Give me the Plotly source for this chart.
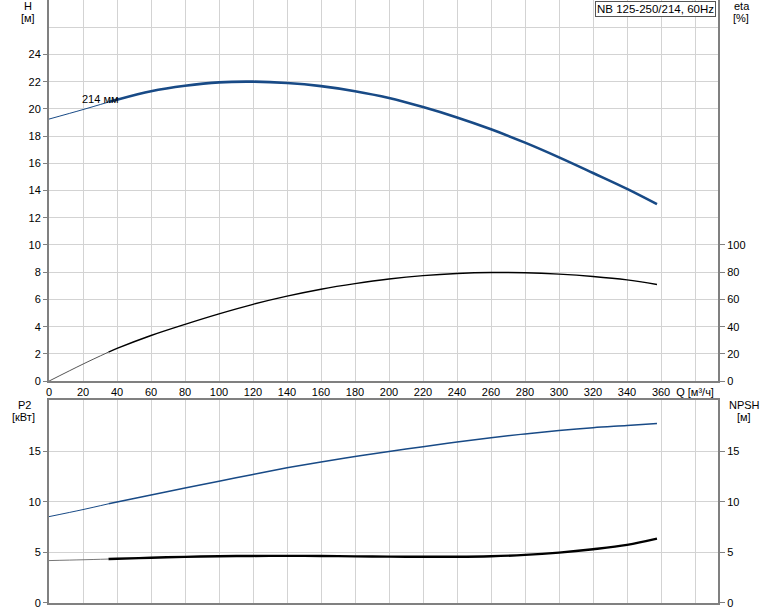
import plotly.graph_objects as go

# ---- data ----
q_h = [0, 20, 35, 40, 60, 80, 100, 120, 140, 160, 180, 200, 220, 240, 260, 280, 300, 320, 340, 357.6]
h_vals = [19.25, 19.95, 20.5, 20.68, 21.3, 21.7, 21.95, 22.0, 21.9, 21.67, 21.3, 20.8, 20.13, 19.37, 18.5, 17.52, 16.44, 15.29, 14.12, 13.0]

q_eta = [0, 20, 35, 40, 60, 80, 100, 120, 140, 160, 180, 200, 220, 240, 260, 280, 300, 320, 340, 357.6]
eta_vals = [0, 12.5, 21.3, 24, 33.5, 41.7, 49.4, 56.4, 62.4, 67.5, 71.6, 75.0, 77.5, 79.1, 79.8, 79.6, 78.6, 76.9, 74.4, 71.0]

q_p2 = [0, 20, 35, 40, 60, 80, 100, 120, 140, 160, 180, 200, 220, 240, 260, 280, 300, 320, 340, 357.6]
p2_vals = [8.55, 9.25, 9.82, 10.0, 10.69, 11.38, 12.06, 12.73, 13.38, 13.97, 14.5, 15.0, 15.48, 15.94, 16.37, 16.74, 17.08, 17.36, 17.57, 17.77]

q_npsh = [0, 20, 35, 40, 60, 80, 100, 120, 140, 160, 180, 200, 220, 240, 260, 280, 300, 320, 340, 357.6]
npsh_vals = [4.2, 4.28, 4.35, 4.38, 4.48, 4.57, 4.63, 4.66, 4.67, 4.65, 4.62, 4.59, 4.58, 4.58, 4.63, 4.76, 4.99, 5.32, 5.75, 6.37]

x_ticks = list(range(0, 381, 20))
x_labels = [str(v) for v in range(0, 361, 20)] + ["Q [м³/ч]"]
h_ticks = list(range(0, 25, 2))
eta_ticks = list(range(0, 101, 20))
p2_ticks = [0, 5, 10, 15]
npsh_ticks = [0, 5, 10, 15]

title_text = "NB 125-250/214, 60Hz"
curve_label = "214 мм"
split_q = 35

BLUE = "#184a86"
GRID = "#d3d3d3"
AXIS = "#808080"
FONT = dict(family="Liberation Sans, Arial, sans-serif", size=11, color="#000000")


def split(xs, ys, at):
    a = [(x, y) for x, y in zip(xs, ys) if x <= at]
    b = [(x, y) for x, y in zip(xs, ys) if x >= at]
    return [p[0] for p in a], [p[1] for p in a], [p[0] for p in b], [p[1] for p in b]


fig = go.Figure()
SM = 1.0


def add_curve(xs, ys, xa, ya, thin_color, thick_color, thick_w):
    x1, y1, x2, y2 = split(xs, ys, split_q)
    fig.add_trace(go.Scatter(x=x1, y=y1, mode="lines",
                             line=dict(color=thin_color, width=1, shape="spline", smoothing=SM),
                             xaxis=xa, yaxis=ya))
    fig.add_trace(go.Scatter(x=x2, y=y2, mode="lines",
                             line=dict(color=thick_color, width=thick_w, shape="spline", smoothing=SM),
                             xaxis=xa, yaxis=ya))


add_curve(q_h, h_vals, "x", "y", BLUE, BLUE, 2.6)
add_curve(q_eta, eta_vals, "x", "y2", "#555555", "#000000", 1.4)
add_curve(q_p2, p2_vals, "x2", "y3", BLUE, BLUE, 1.5)
add_curve(q_npsh, npsh_vals, "x2", "y4", "#777777", "#000000", 2.4)

x_range = [0, 393.5]
top_dom = [0.368, 1.0]
bot_dom = [0.0, 0.3367]

common = dict(automargin=False, zeroline=False, tickfont=FONT)

fig.update_layout(
    template="none",
    width=774, height=611,
    margin=dict(l=49, r=56, t=0, b=8, autoexpand=False),
    paper_bgcolor="white", plot_bgcolor="white",
    showlegend=False,
    hovermode=False,
    font=FONT,
    xaxis=dict(domain=[0, 1], range=x_range, anchor="y", tickmode="array",
               tickvals=x_ticks, ticktext=x_labels, ticks="", showgrid=True, gridcolor=GRID,
               gridwidth=1, showline=True, linecolor=AXIS, linewidth=2, **common),
    yaxis=dict(domain=top_dom, range=[0, 28], anchor="x", tickmode="array", tickvals=h_ticks,
               showgrid=True, gridcolor=GRID, gridwidth=1, showline=True, linecolor=AXIS, linewidth=2,
               ticks="outside", ticklen=4, tickcolor=AXIS,
               minor=dict(dtick=2, tick0=0, showgrid=True, gridcolor=GRID, ticks=""), **common),
    yaxis2=dict(overlaying="y", side="right", anchor="x", range=[0, 280], tickmode="array",
                tickvals=eta_ticks, showgrid=False, showline=True, linecolor=AXIS, linewidth=2,
                ticks="outside", ticklen=5, tickcolor=AXIS, **common),
    xaxis2=dict(domain=[0, 1], range=x_range, anchor="y3", tickmode="array", tickvals=x_ticks,
                showticklabels=False, ticks="", showgrid=True, gridcolor=GRID, gridwidth=1,
                showline=True, linecolor=AXIS, linewidth=2, mirror=True, **common),
    yaxis3=dict(domain=bot_dom, range=[0, 20.1], anchor="x2", tickmode="array", tickvals=p2_ticks,
                showgrid=True, gridcolor=GRID, showline=True, linecolor=AXIS, linewidth=2,
                ticks="outside", ticklen=4, tickcolor=AXIS, **common),
    yaxis4=dict(overlaying="y3", side="right", anchor="x2", range=[0, 20.1], tickmode="array",
                tickvals=npsh_ticks, showgrid=False, showline=True, linecolor=AXIS, linewidth=2,
                ticks="outside", ticklen=5, tickcolor=AXIS, **common),
)

W = 669.0
H = 603.0


def px_x(x):
    return (x - 49) / W


def px_y(y):
    return (603 - y) / H


def label(text, x, y):
    return dict(text=text, xref="paper", yref="paper", x=px_x(x), y=px_y(y), xanchor="center",
                yanchor="middle", showarrow=False, font=FONT)


annos = [
    label("H", 28, 6), label("[м]", 28, 18),
    label("eta", 742, 6), label("[%]", 741, 18),
    label("P2", 24, 405), label("[кВт]", 23, 417),
    label("NPSH", 745, 405), label("[м]", 744, 417),
    dict(text=title_text, xref="paper", yref="paper", x=px_x(716), y=px_y(1), xanchor="right", yanchor="top",
         showarrow=False, font=dict(family=FONT["family"], size=11.5, color="#000000"),
         bgcolor="white", bordercolor="#555555", borderwidth=1, borderpad=1),
    dict(text=curve_label, xref="x", yref="y", x=30, y=20.7, xanchor="center", yanchor="middle",
         showarrow=False, font=FONT),
]
fig.update_layout(annotations=annos)

fig.write_html("out.html", config={"displayModeBar": False},
               post_script="document.body.style.margin='0';document.body.style.padding='0';")
